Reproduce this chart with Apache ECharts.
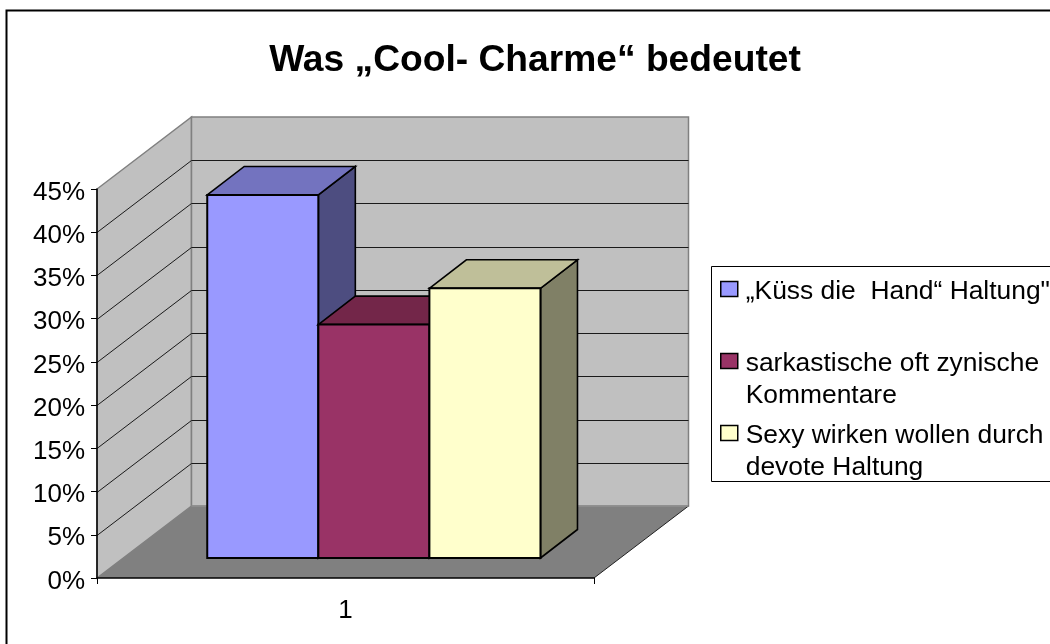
<!DOCTYPE html>
<html>
<head>
<meta charset="utf-8">
<style>
  html, body { margin: 0; padding: 0; background: #fff; }
  #chart { width: 1050px; height: 644px; }
</style>
<script src="https://cdn.jsdelivr.net/npm/echarts@6/dist/echarts.min.js"></script>
</head>
<body>
<div id="chart"></div>
<script>
const titleText = 'Was „Cool- Charme“ bedeutet'
const categories = ['1']
const yTicks = [0, 5, 10, 15, 20, 25, 30, 35, 40, 45]
const seriesNames = [
  '„Küss die  Hand“ Haltung"\n ',
  'sarkastische oft zynische\nKommentare',
  'Sexy wirken wollen durch\ndevote Haltung'
]
const seriesValues = [42, 27, 31.2]
const frontColors = ['#9999ff', '#993366', '#ffffcc']
const topColors = ['#7373bf', '#732649', '#bfbf99']
const sideColors = ['#4d4d80', '#4d1a33', '#808066']

const font = '"Liberation Sans", Arial, sans-serif'
// how far the back wall and the bars are pushed into the picture
const wallDepth = [94.5, -72]
const barInset = [26, -20]
const barDepth = [37, -28.5]

function poly (points, fill, stroke, lineWidth) {
  return {
    type: 'polygon',
    shape: { points },
    style: { fill, stroke, lineWidth: lineWidth || 1, lineJoin: 'miter' }
  }
}

function renderWalls (params, api) {
  const low = api.coord([0, 0])
  const high = api.coord([0, 45])
  const half = api.size([1, 0])[0] / 2
  const l = low[0] - half
  const r = low[0] + half
  const dx = wallDepth[0]
  const dy = wallDepth[1]
  const children = [
    poly([[l, low[1]], [l, high[1]], [l + dx, high[1] + dy], [l + dx, low[1] + dy]], '#c0c0c0', '#808080', 1.5),
    poly([[l + dx, high[1] + dy], [r + dx, high[1] + dy], [r + dx, low[1] + dy], [l + dx, low[1] + dy]], '#c0c0c0', '#808080', 1.5)
  ]
  yTicks.slice(1, -1).forEach((t) => {
    const y = Math.round(api.coord([0, t])[1]) + 0.5
    children.push({
      type: 'polyline',
      shape: { points: [[l, y], [l + dx, y + dy], [r + dx, y + dy]] },
      style: { fill: null, stroke: '#1a1a1a', lineWidth: 1 }
    })
  })
  children.push(poly([[l, low[1]], [r, low[1]], [r + dx, low[1] + dy], [l + dx, low[1] + dy]], '#808080', null))
  children.push({
    type: 'line',
    shape: { x1: r, y1: low[1], x2: r + dx, y2: low[1] + dy },
    style: { stroke: '#222', lineWidth: 1 }
  })
  children.push({
    type: 'line',
    shape: { x1: l + dx, y1: low[1] + dy, x2: r + dx, y2: low[1] + dy },
    style: { stroke: '#909090', lineWidth: 1.5 }
  })
  return { type: 'group', children }
}

function renderBar (index) {
  return function (params, api) {
    const low = api.coord([0, 0])
    const high = api.coord([0, api.value(1)])
    const size = api.size([1, 0])[0]
    const w = size * 0.2235
    const x0 = low[0] - size / 2 + size * 0.1695 + barInset[0] + index * w
    const x1 = x0 + w
    const y0 = low[1] + barInset[1]
    const y1 = high[1] + barInset[1]
    const dx = barDepth[0]
    const dy = barDepth[1]
    return {
      type: 'group',
      children: [
        poly([[x1, y1], [x1 + dx, y1 + dy], [x1 + dx, y0 + dy], [x1, y0]], sideColors[index], '#000', 1.6),
        poly([[x0, y1], [x0 + dx, y1 + dy], [x1 + dx, y1 + dy], [x1, y1]], topColors[index], '#000', 1.6),
        poly([[x0, y1], [x1, y1], [x1, y0], [x0, y0]], frontColors[index], '#000', 2)
      ]
    }
  }
}

const series = [{
  name: 'walls',
  type: 'custom',
  silent: true,
  z: 1,
  renderItem: renderWalls,
  data: [[0, 45]]
}]
seriesNames.forEach((name, i) => {
  series.push({
    name,
    type: 'custom',
    silent: true,
    z: 2 + i,
    itemStyle: { color: frontColors[i] },
    renderItem: renderBar(i),
    encode: { x: 0, y: 1 },
    data: [[0, seriesValues[i]]]
  })
})

const mychart = echarts.init(document.getElementById('chart'), null, { renderer: 'canvas' })
mychart.setOption({
  animation: false,
  backgroundColor: '#ffffff',
  title: {
    text: titleText,
    left: 530,
    top: 37,
    textAlign: 'center',
    textStyle: { fontFamily: font, fontWeight: 'bold', fontSize: 37.2, color: '#000' }
  },
  graphic: [
    {
      type: 'rect',
      z: 0,
      shape: { x: 6.5, y: 10.5, width: 1100, height: 700 },
      style: { fill: null, stroke: '#000', lineWidth: 2 }
    },
    {
      type: 'rect',
      z: 0,
      shape: { x: 711.5, y: 266.5, width: 400, height: 215 },
      style: { fill: '#fff', stroke: '#000', lineWidth: 1 }
    }
  ],
  legend: {
    orient: 'vertical',
    left: 720,
    top: 252,
    padding: 0,
    itemGap: -13,
    itemWidth: 17,
    itemHeight: 15,
    icon: 'rect',
    selectedMode: false,
    itemStyle: { borderColor: '#000', borderWidth: 1.5 },
    textStyle: {
      fontFamily: font,
      fontSize: 26.4,
      color: '#000',
      padding: [0, 0, 0, 3],
      rich: {
        gap: { lineHeight: 38, fontSize: 10 },
        line: { fontFamily: font, fontSize: 26.4, lineHeight: 32, color: '#000' }
      }
    },
    formatter: (name) => '{gap| }\n' + name.split('\n').map((s) => `{line|${s}}`).join('\n'),
    data: seriesNames
  },
  grid: { left: 97, right: 456, top: 189, bottom: 66 },
  xAxis: {
    type: 'category',
    data: categories,
    z: 5,
    axisLine: { lineStyle: { color: '#000', width: 1.5 } },
    axisTick: { show: true, length: 6, alignWithLabel: false, lineStyle: { color: '#000' } },
    axisLabel: { fontFamily: font, fontSize: 26, color: '#000', margin: 20 }
  },
  yAxis: {
    type: 'value',
    min: 0,
    max: 45,
    interval: 5,
    z: 5,
    splitLine: { show: false },
    axisLine: { show: true, lineStyle: { color: '#000', width: 1.5 } },
    axisTick: { show: true, length: 6, lineStyle: { color: '#000' } },
    axisLabel: { fontFamily: font, fontSize: 26, color: '#000', margin: 12, verticalAlign: 'top', lineHeight: 7, formatter: '{value}%' }
  },
  series
})
</script>
</body>
</html>
